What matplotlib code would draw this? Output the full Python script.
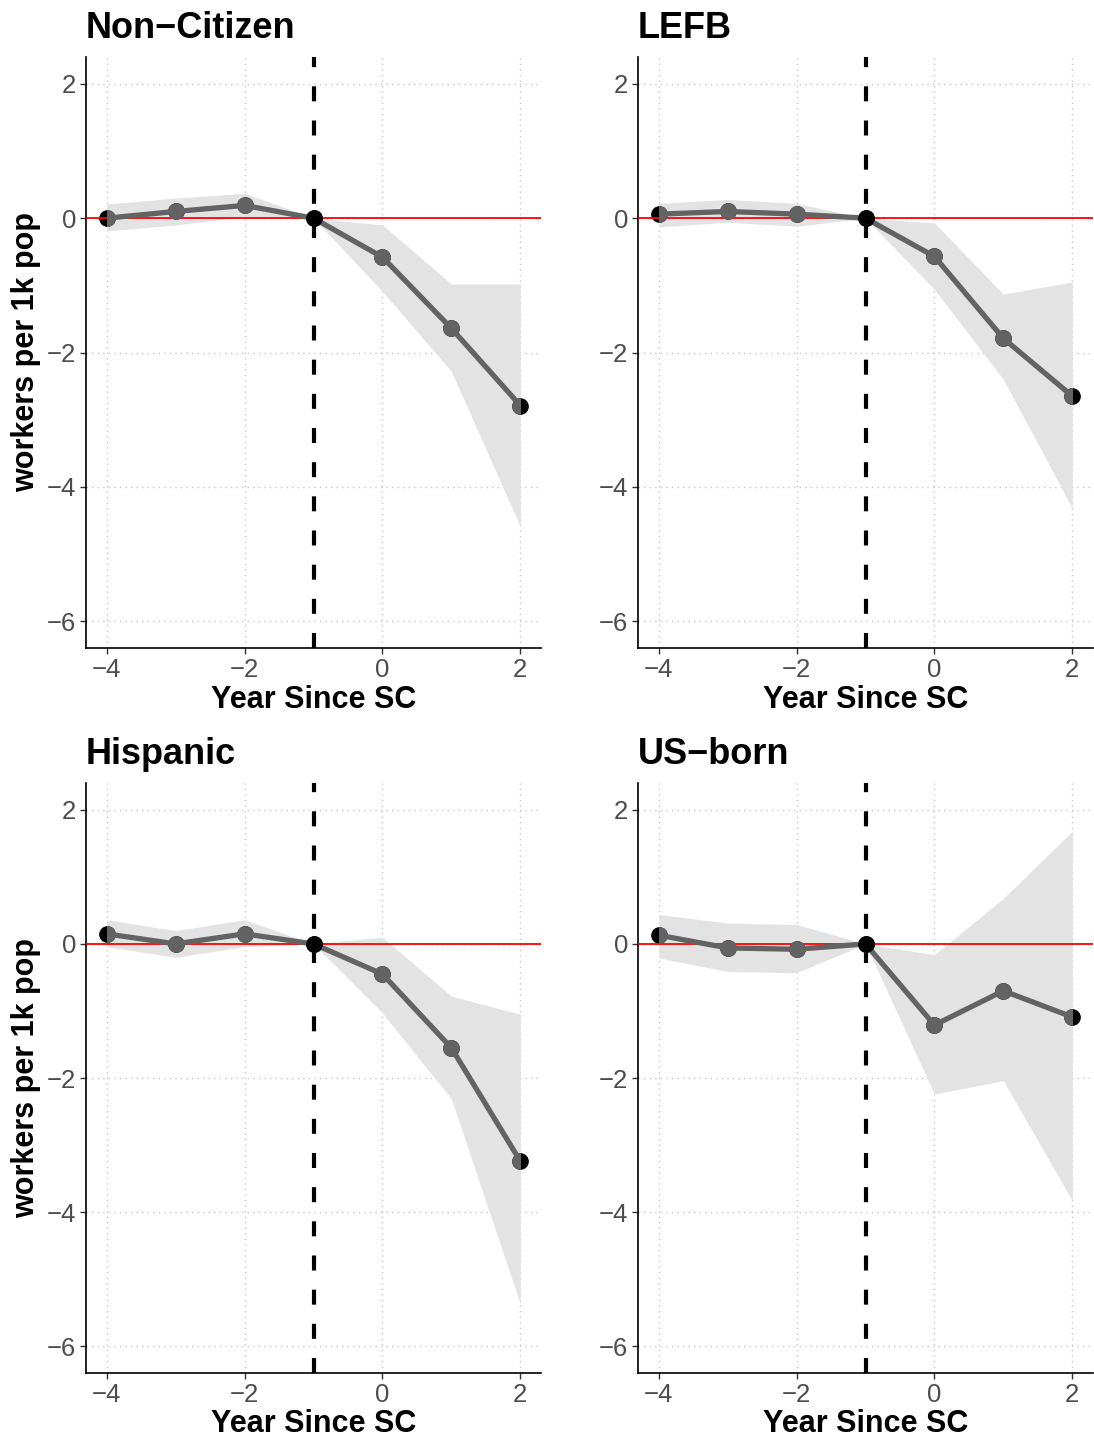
import numpy as np
import matplotlib.pyplot as plt
from matplotlib.patches import Rectangle

plt.rcParams['font.family'] = ['Liberation Sans', 'DejaVu Sans']

years = [-4, -3, -2, -1, 0, 1, 2]
titles = ['Non\u2212Citizen', 'LEFB', 'Hispanic', 'US\u2212born']

# point estimates
est_noncit = [0.00, 0.10, 0.19, 0.0, -0.58, -1.64, -2.79]
est_lefb = [0.06, 0.10, 0.06, 0.0, -0.57, -1.79, -2.65]
est_hisp = [0.15, 0.00, 0.15, 0.0, -0.45, -1.55, -3.24]
est_usborn = [0.13, -0.06, -0.08, 0.0, -1.21, -0.70, -1.09]

# confidence band
lo_noncit = [-0.19, -0.10, 0.02, 0.0, -1.09, -2.28, -4.59]
hi_noncit = [0.21, 0.30, 0.37, 0.0, -0.10, -0.98, -0.98]
lo_lefb = [-0.13, -0.06, -0.12, 0.0, -1.06, -2.40, -4.32]
hi_lefb = [0.22, 0.28, 0.22, 0.0, -0.07, -1.13, -0.95]
lo_hisp = [-0.04, -0.20, -0.04, 0.0, -1.03, -2.31, -5.37]
hi_hisp = [0.36, 0.20, 0.36, 0.0, 0.10, -0.78, -1.05]
lo_usborn = [-0.21, -0.41, -0.43, 0.0, -2.24, -2.04, -3.83]
hi_usborn = [0.44, 0.31, 0.29, 0.0, -0.16, 0.68, 1.68]

panels = [(est_noncit, lo_noncit, hi_noncit),
          (est_lefb, lo_lefb, hi_lefb),
          (est_hisp, lo_hisp, hi_hisp),
          (est_usborn, lo_usborn, hi_usborn)]

W, H = 1094, 1439
fig = plt.figure(figsize=(W / 100, H / 100), dpi=100)

# axes boxes in pixels: left, top, right, bottom
boxes = [(86, 57, 541, 648), (638, 57, 1093, 648),
         (86, 783, 541, 1373), (638, 783, 1093, 1373)]

x = np.array(years)
for k, (est, lo, hi) in enumerate(panels):
    l, t, r, b = boxes[k]
    ax = fig.add_axes([l / W, 1 - b / H, (r - l) / W, (b - t) / H])
    est = np.array(est)

    ax.fill_between(x, lo, hi, color='#e3e3e3', lw=0, zorder=1)
    ax.plot(x, est, 'o', color='black', ms=11, zorder=3)
    ax.axhline(0, color='red', lw=1.3, zorder=4)

    # grey series only drawn inside [-4, 2], so the black dots peek out at the ends
    clip = Rectangle((-4, -10), 6, 20, transform=ax.transData)
    ln, = ax.plot(x, est, color='#636363', lw=3.8, zorder=5)
    ln.set_clip_path(clip)
    mask = x != -1
    pts, = ax.plot(x[mask], est[mask], 'o', color='#636363', ms=11, zorder=5)
    pts.set_clip_path(clip)

    ax.axvline(-1, color='black', lw=3, ls=(0, (3.6, 4.6)), zorder=6)
    ax.plot([-1], [0], 'o', color='black', ms=11, zorder=7)

    ax.set_xlim(-4.3, 2.3)
    ax.set_ylim(-6.4, 2.4)
    ax.set_xticks([-4, -2, 0, 2])
    ax.set_yticks([-6, -4, -2, 0, 2])
    ax.set_xticklabels(['\u22124', '\u22122', '0', '2'])
    ax.set_yticklabels(['\u22126', '\u22124', '\u22122', '0', '2'])
    ax.grid(True, color='#c8c8c8', ls=(0, (1, 3)), lw=1.0, zorder=0)
    ax.set_axisbelow(True)
    for s in ['top', 'right']:
        ax.spines[s].set_visible(False)
    for s in ['left', 'bottom']:
        ax.spines[s].set_linewidth(1.2)
    ax.tick_params(colors='#333333', labelcolor='#4d4d4d', labelsize=18.5,
                   length=4, width=1, pad=3)
    ax.set_title(titles[k], loc='left', fontsize=26, fontweight='bold', pad=14)
    ax.set_xlabel('Year Since SC', fontsize=22, fontweight='bold', labelpad=2)
    if k % 2 == 0:
        ax.set_ylabel('workers per 1k pop', fontsize=22, fontweight='bold', labelpad=4)

fig.savefig('out.png', dpi=100)
